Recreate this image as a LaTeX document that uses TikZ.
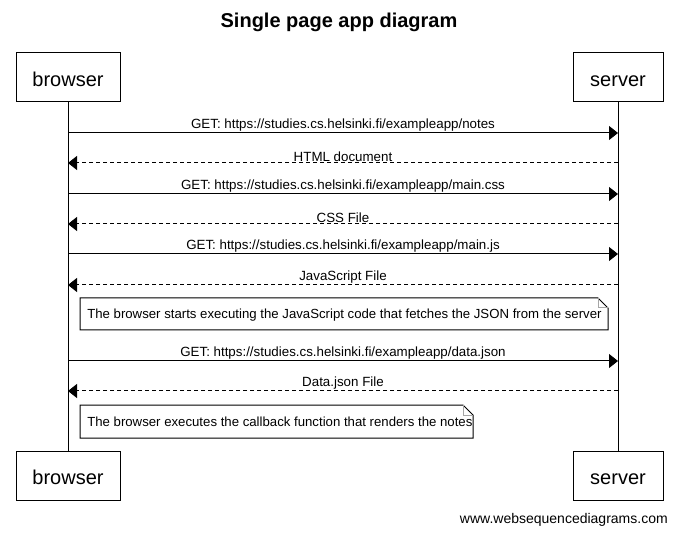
\documentclass[tikz,border=0pt]{standalone}
\usepackage{fontspec}
\setmainfont{Liberation Sans}
\usetikzlibrary{arrows.meta}
\begin{document}
\begin{tikzpicture}[x=0.75pt,y=-0.75pt,
  actor/.style={draw,line width=0.75pt,minimum height=36.75pt,inner sep=0pt,text height=14pt,text depth=0pt,font=\fontsize{15}{18}\selectfont},
  msg/.style={line width=0.75pt,-{Triangle[length=6.75pt,width=10.5pt]}},
  reply/.style={msg,dash pattern=on 3pt off 2.25pt},
  lbl/.style={midway,above,inner sep=1pt,font=\fontsize{10}{12}\selectfont},
  notetext/.style={font=\fontsize{9.9}{12}\selectfont,inner sep=0pt},
  notebox/.style={draw,line width=0.75pt,fill=white},
  fold/.style={draw=gray!70,line width=0.75pt}]
\useasboundingbox (0,0) rectangle (678,534);
\node[font=\bfseries\fontsize{15}{18}\selectfont] (title) at (339,22) {Single page app diagram};
\node[actor,minimum width=78pt] (btop) at (68,77.5) {browser};
\node[actor,minimum width=67.5pt] (stop) at (618,77.5) {server};
\node[actor,minimum width=78pt] (bbot) at (68,475.5) {browser};
\node[actor,minimum width=67.5pt] (sbot) at (618,475.5) {server};
\draw[line width=0.75pt] (btop.south) -- (bbot.north);
\draw[line width=0.75pt] (stop.south) -- (sbot.north);
% message coordinates
\foreach \n/\y in {1/133,2/163,3/194,4/224,5/254,6/285,7/361,8/391}{
  \coordinate (b\n) at (68,\y);
  \coordinate (s\n) at (618,\y);
}
\draw[msg] (b1) -- (s1) node[lbl] {GET: https://studies.cs.helsinki.fi/exampleapp/notes};
\draw[reply] (s2) -- (b2) node[lbl] {HTML document};
\draw[msg] (b3) -- (s3) node[lbl] {GET: https://studies.cs.helsinki.fi/exampleapp/main.css};
\draw[reply] (s4) -- (b4) node[lbl] {CSS File};
\draw[msg] (b5) -- (s5) node[lbl] {GET: https://studies.cs.helsinki.fi/exampleapp/main.js};
\draw[reply] (s6) -- (b6) node[lbl] {JavaScript File};
\draw[msg] (b7) -- (s7) node[lbl] {GET: https://studies.cs.helsinki.fi/exampleapp/data.json};
\draw[reply] (s8) -- (b8) node[lbl] {Data.json File};
% note 1
\path[notebox] (80,298) -- (598,298) -- (608,308) -- (608,330) -- (80,330) -- cycle;
\path[fold] (598,298) -- (598,308) -- (608,308);
\node[notetext,anchor=west] (note1) at (87,315) {The browser starts executing the JavaScript code that fetches the JSON from the server};
% note 2
\path[notebox] (80,405) -- (463,405) -- (473,415) -- (473,438) -- (80,438) -- cycle;
\path[fold] (463,405) -- (463,415) -- (473,415);
\node[notetext,anchor=west] (note2) at (87,421.5) {The browser executes the callback function that renders the notes};
\node[font=\fontsize{10.5}{12}\selectfont,anchor=east,inner sep=0pt] (credit) at (668,520) {www.websequencediagrams.com};
\end{tikzpicture}
\end{document}
